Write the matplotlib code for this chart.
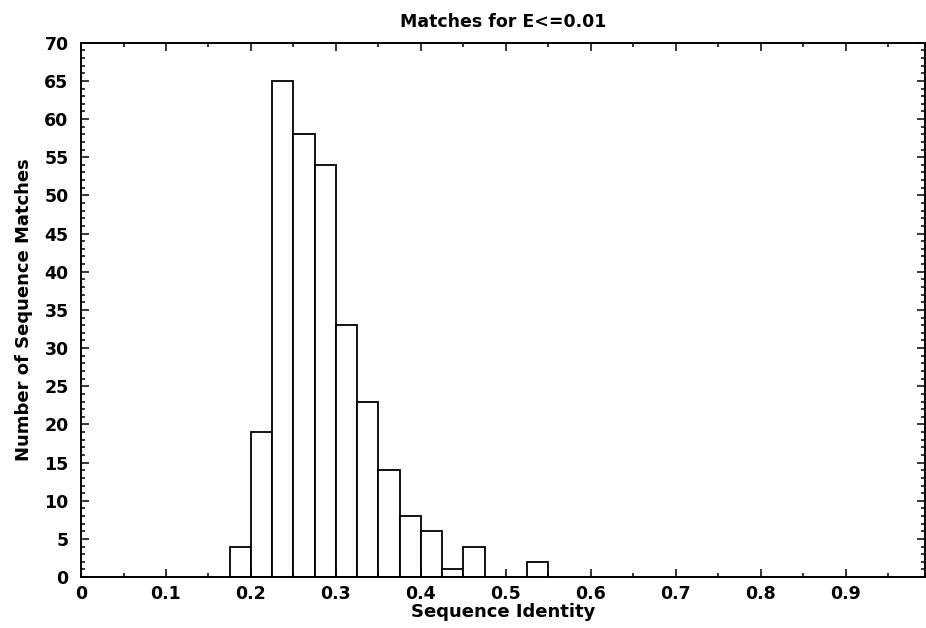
import matplotlib.pyplot as plt
from matplotlib.ticker import MultipleLocator

# histogram data
bin_left = [0.175, 0.2, 0.225, 0.25, 0.275, 0.3, 0.325, 0.35, 0.375,
            0.4, 0.425, 0.45, 0.475, 0.5, 0.525]
counts = [4, 19, 65, 58, 54, 33, 23, 14, 8, 6, 1, 4, 0, 0, 2]
bin_width = 0.025
x_ticks = [0, 0.1, 0.2, 0.3, 0.4, 0.5, 0.6, 0.7, 0.8, 0.9]
x_tick_labels = ["0", "0.1", "0.2", "0.3", "0.4", "0.5", "0.6", "0.7", "0.8", "0.9"]

plt.rcParams['font.family'] = ['DejaVu Sans']

fig = plt.figure(figsize=(9.26, 6.28), dpi=100)
ax = fig.add_axes([0.0875, 0.081, 0.911, 0.851])

ax.bar(bin_left, counts, width=bin_width, align='edge',
       facecolor='white', edgecolor='black', linewidth=1.3)

ax.set_xlim(0, 0.993)
ax.set_ylim(0, 70)
ax.set_xticks(x_ticks)
ax.set_xticklabels(x_tick_labels)
ax.xaxis.set_minor_locator(MultipleLocator(0.05))
ax.yaxis.set_major_locator(MultipleLocator(5))
ax.yaxis.set_minor_locator(MultipleLocator(1))

ax.tick_params(which='both', direction='in', top=True, right=True,
               labelsize=12.5, width=1.1)
ax.tick_params(axis='y', pad=9)
ax.tick_params(axis='x', pad=6)
ax.tick_params(which='major', length=6)
ax.tick_params(which='minor', length=3)
for lab in ax.get_xticklabels() + ax.get_yticklabels():
    lab.set_fontweight('bold')

for s in ax.spines.values():
    s.set_linewidth(1.4)

ax.set_title("Matches for E<=0.01", fontsize=12.5, fontweight='bold', pad=11)
ax.set_xlabel("Sequence Identity", fontsize=13, fontweight='bold', labelpad=0)
ax.set_ylabel("Number of Sequence Matches", fontsize=13, fontweight='bold', labelpad=8)

fig.savefig("out.png", dpi=100)
